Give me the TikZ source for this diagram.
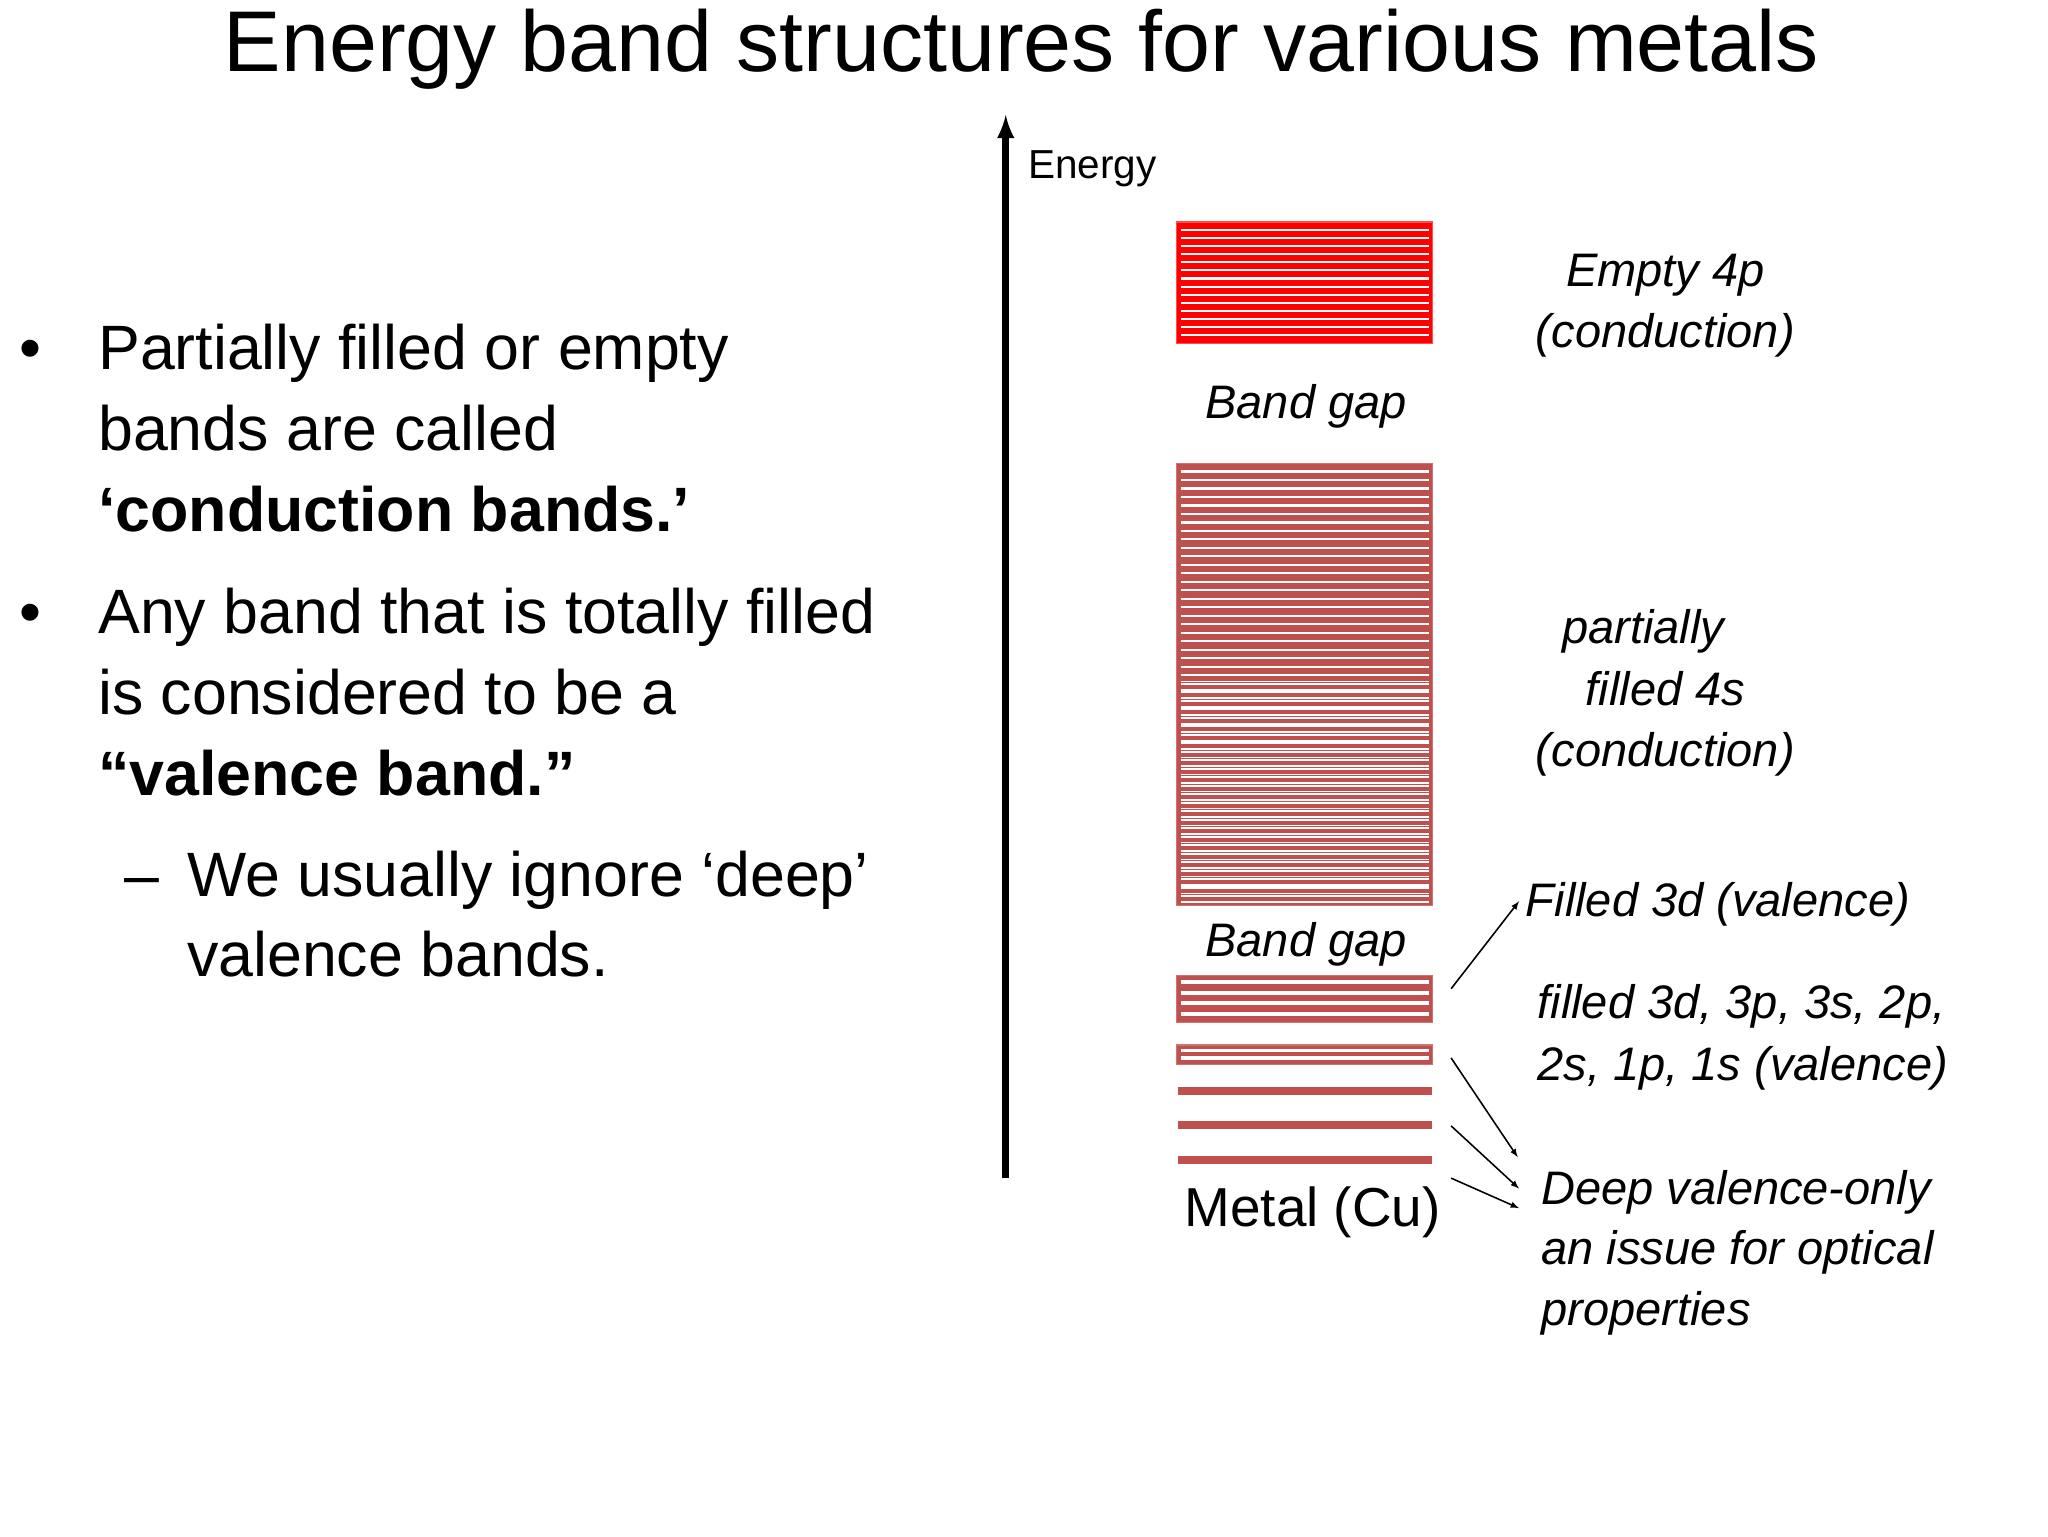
\documentclass[tikz,border=0pt]{standalone}
\usepackage{fontspec}
\setmainfont{Liberation Sans}
\begin{document}
\begin{tikzpicture}[x=1pt,y=-1pt,
  body/.style={anchor=base west,inner sep=0,font=\fontsize{48}{60}\selectfont},
  lab/.style={inner sep=0,font=\fontsize{36}{44}\selectfont\itshape},
  band/.style={fill=#1,draw=#1!80!white,line width=1pt},
  arr/.style={-latex,line width=1.2pt}]
\useasboundingbox (0,0) rectangle (1568,1176);
\node[inner sep=0,font=\fontsize{66}{70}\selectfont] (title) at (782,38) {Energy band structures for various metals};
% bullets
\node[body] (b1) at (15,283) {•};
\node[body] (l1) at (75,283) {Partially filled or empty};
\node[body] (l2) at (75,345) {bands are called};
\node[body] (l3) at (75,407) {\textbf{‘conduction bands.’}};
\node[body] (b2) at (15,485) {•};
\node[body] (l4) at (75,485) {Any band that is totally filled};
\node[body] (l5) at (75,547) {is considered to be a};
\node[body] (l6) at (75,609) {\textbf{“valence band.”}};
\node[body] (d1) at (95,686) {–};
\node[body] (l7) at (143,686) {We usually ignore ‘deep’};
\node[body] (l8) at (143,748) {valence bands.};
% axis
\coordinate (a0) at (770,902);
\coordinate (a1) at (770,88);
\draw[line width=5pt,-latex] (a0) -- (a1);
\node[anchor=base west,inner sep=0,font=\fontsize{31}{36}\selectfont] (en) at (787,137) {Energy};
% bands
\definecolor{cred}{HTML}{FF0000}
\definecolor{cbr}{HTML}{C0504D}
\fill[cred] (901,170) rectangle (1097,263);
\foreach \y in {176,182.2,...,262} \draw[white,line width=1.6pt] (904,\y) -- (1094,\y);
\draw[cred!70!white,line width=1pt] (901,170) rectangle (1097,263);
\fill[cbr] (901,355) rectangle (1097,693);
\foreach \y in {361,367.5,...,690} \draw[white,line width=1.6pt] (904,\y) -- (1094,\y);
\foreach \y in {520,526.5,...,690} \draw[white,line width=1.2pt] (904,\y+1.6) -- (1094,\y+1.6);
\draw[cbr!80!white,line width=1pt] (901,355) rectangle (1097,693);
\fill[cbr] (901,747) rectangle (1097,783);
\foreach \y in {752,760,...,782} \draw[white,line width=3pt] (904,\y) -- (1094,\y);
\draw[cbr!80!white,line width=1pt] (901,747) rectangle (1097,783);
\fill[cbr] (901,800) rectangle (1097,815);
\foreach \y in {804,810} \draw[white,line width=2.5pt] (904,\y) -- (1094,\y);
\draw[cbr!80!white,line width=1pt] (901,800) rectangle (1097,815);
\foreach \y in {835,861,888} \fill[cbr] (902,\y-3) rectangle (1096,\y+3);
\node[lab] (bg1) at (1000,311) {Band gap};
\node[lab] (bg2) at (1000,723) {Band gap};
\node[inner sep=0,font=\fontsize{42}{48}\selectfont] (metal) at (1005,928) {Metal (Cu)};
% labels
\node[lab,anchor=base] (e1) at (1275,219) {Empty 4p};
\node[lab,anchor=base] (e2) at (1275,266) {(conduction)};
\node[lab,anchor=base] (p1) at (1258,493) {partially};
\node[lab,anchor=base] (p2) at (1275,540) {filled 4s};
\node[lab,anchor=base] (p3) at (1275,587) {(conduction)};
\node[lab,anchor=base west] (f3d) at (1168,702) {Filled 3d (valence)};
\node[lab,anchor=base west] (fa) at (1177,780) {filled 3d, 3p, 3s, 2p,};
\node[lab,anchor=base west] (fb) at (1177,827) {2s, 1p, 1s (valence)};
\node[lab,anchor=base west] (d1) at (1180,922) {Deep valence-only};
\node[lab,anchor=base west] (d2) at (1180,968) {an issue for optical};
\node[lab,anchor=base west] (d3) at (1180,1015) {properties};
% arrows
\coordinate (s1) at (1111,757); \coordinate (t1) at (1163,690);
\coordinate (s2) at (1111,810); \coordinate (t2) at (1162,886);
\coordinate (s3) at (1111,862); \coordinate (t3) at (1163,910);
\coordinate (s4) at (1111,902); \coordinate (t4) at (1163,925);
\draw[arr] (s1) -- (t1);
\draw[arr] (s2) -- (t2);
\draw[arr] (s3) -- (t3);
\draw[arr] (s4) -- (t4);
\end{tikzpicture}
\end{document}
